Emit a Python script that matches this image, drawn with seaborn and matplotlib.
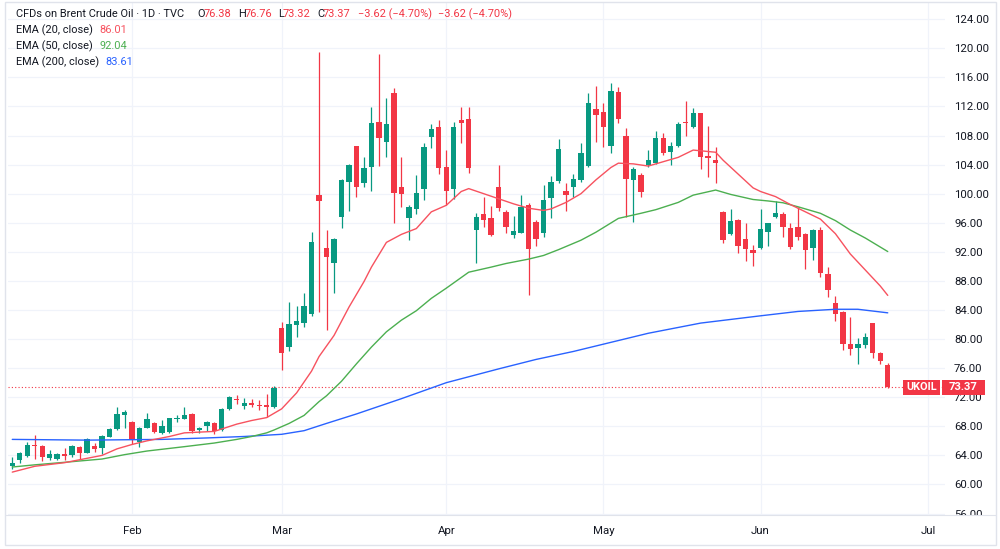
import numpy as np
import pandas as pd
import matplotlib
matplotlib.use("Agg")
import matplotlib.pyplot as plt
import seaborn as sns
from matplotlib.patches import Rectangle
from matplotlib.transforms import Bbox, TransformedBbox
from matplotlib.lines import Line2D

# ─── Daily OHLC (bar index 0 = first visible bar) ─────────────────────────
opens = [62.55, 63.38, 63.93, 65.40, 65.35, 63.65, 63.56, 64.20, 64.02, 65.17,
         64.38, 65.26, 64.98, 66.59, 67.64, 69.52, 68.65, 65.90, 67.83, 68.51,
         67.14, 67.18, 69.00, 69.06, 69.75, 67.50, 68.10, 68.51, 67.50, 70.35,
         71.70, 70.80, 71.17, 71.00, 70.94, 70.69, 81.56, 78.94, 81.93, 82.25,
         83.44, 99.77, 92.48, 90.41, 96.83, 101.65, 106.56, 101.42, 103.72, 109.82,
         107.16, 113.81, 100.96, 96.61, 97.89, 100.60, 107.75, 109.22, 103.62, 100.69,
         110.09, 110.28, 95.00, 97.16, 96.70, 100.96, 97.43, 94.27, 94.63, 98.44,
         96.10, 94.54, 99.35, 101.73, 100.36, 100.95, 101.87, 103.84, 111.60, 111.28,
         106.55, 114.03, 107.97, 101.87, 102.56, 103.94, 104.17, 107.60, 105.77, 106.55,
         109.85, 109.12, 111.05, 105.22, 104.62, 97.42, 94.39, 96.37, 93.75, 92.28,
         92.56, 94.67, 96.83, 97.15, 95.31, 95.45, 94.39, 92.56, 94.99, 88.89,
         84.90, 83.75, 79.39, 78.84, 79.17, 82.24, 78.11, 76.38]
highs = [63.83, 64.52, 65.90, 66.82, 65.40, 64.75, 64.39, 64.98, 65.44, 65.35,
         66.36, 65.67, 66.82, 67.78, 70.62, 70.26, 68.79, 67.87, 69.80, 68.65,
         68.88, 69.20, 69.57, 70.70, 69.89, 67.96, 68.79, 68.65, 70.49, 72.18,
         72.30, 71.86, 71.70, 71.60, 72.43, 73.58, 82.39, 85.14, 84.54, 86.28,
         94.68, 119.54, 95.00, 93.86, 101.97, 104.08, 106.56, 105.09, 111.97, 119.22,
         113.12, 114.50, 105.00, 98.44, 102.57, 107.02, 109.59, 110.14, 106.01, 109.91,
         111.97, 111.97, 97.29, 99.59, 98.30, 103.90, 97.75, 96.93, 99.82, 98.67,
         96.38, 101.20, 102.42, 107.47, 101.41, 102.70, 106.91, 113.89, 114.81, 112.42,
         115.27, 114.62, 108.98, 103.61, 102.79, 106.00, 108.61, 108.39, 107.15, 109.81,
         112.79, 111.73, 111.14, 109.30, 106.37, 97.61, 97.83, 96.50, 96.00, 92.93,
         97.83, 96.00, 98.98, 97.42, 95.91, 98.20, 94.53, 95.08, 95.45, 89.85,
         85.91, 83.89, 82.97, 80.08, 80.77, 82.24, 78.25, 76.76]
lows = [62.09, 62.92, 63.83, 63.47, 63.28, 63.38, 63.38, 63.38, 63.74, 63.56,
        64.29, 64.52, 64.20, 66.50, 67.50, 67.83, 65.53, 65.20, 67.73, 67.05,
        66.90, 67.05, 68.65, 68.97, 67.14, 67.05, 67.41, 66.90, 67.37, 70.26,
        71.10, 70.35, 70.60, 70.30, 69.30, 70.46, 75.73, 78.39, 80.30, 81.60,
        83.20, 83.76, 81.24, 86.28, 95.23, 97.66, 99.59, 100.96, 100.41, 103.81,
        105.09, 96.01, 98.21, 93.62, 97.20, 99.13, 106.24, 102.66, 98.39, 99.22,
        107.02, 102.80, 90.50, 95.46, 94.22, 97.66, 94.54, 93.95, 94.54, 86.06,
        92.80, 94.08, 96.60, 101.41, 97.65, 99.58, 101.64, 103.61, 107.15, 106.37,
        105.63, 109.67, 96.83, 96.05, 99.58, 103.71, 104.07, 105.31, 103.94, 106.46,
        107.93, 108.98, 103.34, 102.24, 101.41, 93.25, 94.30, 91.78, 90.77, 90.04,
        92.33, 92.79, 96.60, 93.98, 92.33, 93.61, 89.62, 90.86, 88.48, 85.82,
        82.51, 78.48, 77.79, 76.64, 78.71, 77.33, 76.55, 73.32]
closes = [63.00, 64.29, 65.39, 65.30, 63.83, 64.20, 64.20, 63.97, 65.35, 64.29,
          66.27, 64.84, 66.72, 67.69, 69.71, 69.93, 66.27, 67.73, 68.97, 67.28,
          68.05, 69.11, 69.07, 69.61, 67.41, 67.73, 68.60, 67.41, 70.35, 72.00,
          71.60, 71.17, 70.94, 70.80, 70.70, 73.21, 78.03, 82.02, 82.52, 84.50,
          93.30, 98.94, 91.33, 93.72, 101.88, 103.94, 100.96, 103.58, 109.68, 107.61,
          109.59, 100.05, 99.95, 98.12, 100.05, 106.38, 108.85, 103.49, 100.41, 109.22,
          109.72, 103.49, 96.74, 96.38, 94.31, 97.98, 95.37, 94.82, 98.21, 92.39,
          93.76, 99.13, 101.56, 106.09, 99.86, 101.96, 105.54, 112.51, 110.82, 109.21,
          114.12, 110.27, 101.96, 103.39, 100.28, 104.62, 107.70, 105.63, 106.60, 109.53,
          109.75, 111.05, 105.08, 104.85, 104.26, 93.61, 96.28, 92.83, 92.38, 91.83,
          95.13, 95.91, 97.38, 95.36, 92.70, 94.07, 92.24, 94.99, 89.12, 86.73,
          83.39, 79.30, 78.61, 79.26, 80.31, 78.11, 77.00, 73.37]

# ─── EMA overlays, read at sampled bars ──────────────────────────────────
ema20_bar = [0, 3, 7, 12, 14, 16, 18, 21, 23, 25, 27, 30, 32, 34, 36, 38, 40, 41,
             43, 45, 47, 48, 50, 52, 54, 56, 58, 60, 61, 63, 65, 67, 69, 71, 72,
             74, 76, 78, 80, 81, 83, 85, 86, 89, 91, 93, 94, 95, 97, 99, 100, 102,
             104, 106, 108, 110, 112, 114, 116, 117]
ema20_val = [61.7, 62.5, 63.0, 64.0, 64.9, 65.5, 66.0, 66.6, 67.1, 67.2, 67.3, 68.3,
             68.8, 69.2, 70.4, 72.6, 75.6, 77.6, 80.5, 84.4, 87.9, 89.9, 93.3, 94.4,
             95.2, 97.5, 98.4, 100.3, 100.7, 100.0, 99.3, 98.6, 98.0, 97.7, 97.9,
             98.8, 100.0, 101.9, 103.6, 104.2, 104.1, 103.8, 104.1, 105.0, 106.0,
             105.8, 105.7, 104.6, 102.7, 100.8, 100.3, 99.6, 98.5, 97.5, 96.5, 94.5,
             91.7, 89.5, 87.3, 86.01]
ema50_bar = [0, 3, 7, 12, 15, 18, 23, 27, 30, 32, 34, 35, 37, 39, 41, 42, 44, 46,
             48, 50, 52, 54, 56, 58, 61, 64, 66, 69, 71, 73, 76, 78, 81, 84, 86, 89,
             91, 94, 96, 99, 101, 103, 105, 108, 110, 112, 114, 117]
ema50_val = [62.4, 62.7, 63.05, 63.5, 64.1, 64.6, 65.2, 65.7, 66.2, 66.6, 67.1, 67.5,
             68.4, 69.5, 71.4, 72.2, 74.2, 76.6, 78.9, 81.0, 82.6, 83.9, 85.6, 87.0,
             89.2, 89.9, 90.4, 91.0, 91.5, 92.3, 93.6, 94.7, 96.6, 97.3, 97.8, 98.8,
             99.8, 100.5, 99.9, 99.2, 99.0, 98.75, 98.2, 97.3, 96.3, 95.0, 93.9, 92.04]
ema200_bar = [0, 10, 20, 26, 31, 36, 39, 42, 46, 52, 58, 65, 70, 75, 79, 85, 92,
              100, 105, 110, 113, 117]
ema200_val = [66.2, 66.1, 66.2, 66.4, 66.6, 66.9, 67.4, 68.4, 69.7, 71.8, 74.0, 75.9,
              77.2, 78.3, 79.3, 80.8, 82.2, 83.2, 83.8, 84.1, 84.1, 83.61]

# ─── Axis labels ──────────────────────────────────────────────────────────
month_bar = [16, 36, 58, 79, 100, 122.4]
month_lbl = ['Feb', 'Mar', 'Apr', 'May', 'Jun', 'Jul']
price_ticks = list(range(56, 125, 4))
last_price = 73.37

UP, DOWN = '#089981', '#F23645'
EMA20_C, EMA50_C, EMA200_C = '#f7525f', '#4caf50', '#2962ff'
TXT = '#131722'
GRID = '#f0f3fa'

df = pd.DataFrame({'open': opens, 'high': highs, 'low': lows, 'close': closes})
df['bar'] = np.arange(len(df))
df['up'] = df['close'] >= df['open']

sns.set_theme(style='white')
plt.rcParams['font.family'] = ['Roboto', 'DejaVu Sans']
plt.rcParams['font.size'] = 8.2

fig = plt.figure(figsize=(10, 5.49), dpi=100)
fig.patch.set_facecolor('white')
W, H = 1000, 549
ax = fig.add_axes([8 / W, 34 / H, 937 / W, 512 / H])
ax.set_facecolor('white')

# candles
colors = np.where(df['up'], UP, DOWN)
ax.vlines(df['bar'], df['low'], df['high'], colors=colors, linewidth=0.9, zorder=3)
body = (df['close'] - df['open']).abs().clip(lower=0.14)
ax.bar(df['bar'], body, bottom=df[['open', 'close']].min(axis=1), width=0.72,
       color=colors, linewidth=0, zorder=4)

# EMA lines
sns.lineplot(x=ema200_bar, y=ema200_val, ax=ax, color=EMA200_C, linewidth=1.0, zorder=5)
sns.lineplot(x=ema50_bar, y=ema50_val, ax=ax, color=EMA50_C, linewidth=1.0, zorder=5)
sns.lineplot(x=ema20_bar, y=ema20_val, ax=ax, color=EMA20_C, linewidth=1.0, zorder=5)

# last price line
ax.axhline(last_price, color=DOWN, linewidth=0.8, linestyle=(0, (1, 2)), zorder=2)

ax.set_xlim(-0.57, 124.65)
ax.set_ylim(55.8, 126.23)
ax.set_yticks(price_ticks)
ax.set_yticklabels([f'{p:.2f}' for p in price_ticks])
ax.set_xticks(month_bar)
ax.set_xticklabels(month_lbl)
ax.yaxis.tick_right()
ax.tick_params(axis='y', length=0, pad=6.5, labelsize=8.2, labelcolor=TXT)
ax.tick_params(axis='x', length=0, pad=8, labelsize=8.2, labelcolor=TXT)
ax.grid(True, color=GRID, linewidth=0.9)
ax.set_axisbelow(True)
ax.set_xlabel('')
ax.set_ylabel('')
for s in ax.spines.values():
    s.set_visible(False)

# outer frame and pane separator
fig.add_artist(Rectangle((5 / W, 4 / H), 991 / W, 543 / H, transform=fig.transFigure,
                         fill=False, edgecolor='#e0e3eb', linewidth=1))
fig.add_artist(Line2D([5 / W, 996 / W], [34 / H, 34 / H], transform=fig.transFigure,
                      color='#e0e3eb', linewidth=0.8))

# clip the bottom price label at the pane edge, like the original
fig.canvas.draw()
clip = TransformedBbox(Bbox.from_extents(0.9, 34 / H, 1.0, 1.0), fig.transFigure)
for t in ax.yaxis.get_major_ticks():
    if abs(t.get_loc() - 56) < 1e-6:
        t.label2.set_clip_box(clip)
        t.label2.set_clip_on(True)

# last price tags
_, ypix = ax.transData.transform((0, last_price))
yf = ypix / H
th = 15 / H
fig.add_artist(Rectangle((903 / W, yf - th / 2), 37 / W, th, transform=fig.transFigure,
                         facecolor=DOWN, edgecolor='none', zorder=10))
fig.add_artist(Rectangle((942 / W, yf - th / 2), 43 / W, th, transform=fig.transFigure,
                         facecolor=DOWN, edgecolor='none', zorder=10))
fig.text(921.5 / W, yf, 'UKOIL', color='white', fontsize=7.8, fontweight='bold',
         ha='center', va='center', zorder=11)
fig.text(963.5 / W, yf, f'{last_price:.2f}', color='white', fontsize=8.0,
         fontweight='bold', ha='center', va='center', zorder=11)

# header / legend text
def row(pieces, y, size=7.9):
    for x, s, c in pieces:
        fig.text(x / W, 1 - y / H, s, color=c, fontsize=size, ha='left', va='center')

row([(16, 'CFDs on Brent Crude Oil · 1D · TVC', TXT),
     (197, 'O', TXT), (204, '76.38', DOWN),
     (238, 'H', TXT), (245, '76.76', DOWN),
     (278, 'L', TXT), (283, '73.32', DOWN),
     (317, 'C', TXT), (323, '73.37', DOWN),
     (358, '\u22123.62 (\u22124.70%)', DOWN),
     (438, '\u22123.62 (\u22124.70%)', DOWN)], 14)
row([(16, 'EMA (20, close)', TXT), (99, '86.01', EMA20_C)], 30)
row([(16, 'EMA (50, close)', TXT), (99, '92.04', EMA50_C)], 46)
row([(16, 'EMA (200, close)', TXT), (105, '83.61', EMA200_C)], 62)

fig.savefig('out.png', dpi=100, facecolor='white')
